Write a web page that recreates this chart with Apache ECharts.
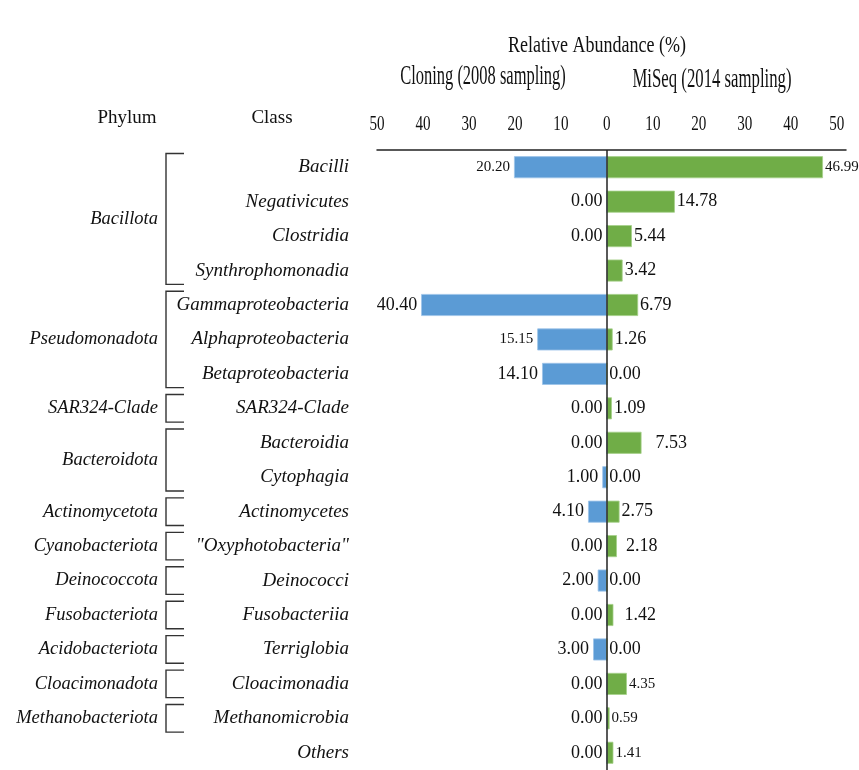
<!DOCTYPE html>
<html><head><meta charset="utf-8">
<script src="https://cdn.jsdelivr.net/npm/echarts@6/dist/echarts.min.js"></script>
<style>html,body{margin:0;padding:0;background:#fff}#c{width:859px;height:770px}</style>
</head><body><div id="c"></div>
<script>
// ---------- data ----------
const classes = ['Bacilli','Negativicutes','Clostridia','Synthrophomonadia','Gammaproteobacteria','Alphaproteobacteria','Betaproteobacteria','SAR324-Clade','Bacteroidia','Cytophagia','Actinomycetes','"Oxyphotobacteria"','Deinococci','Fusobacteriia','Terriglobia','Cloacimonadia','Methanomicrobia','Others'];
const cloning = [20.20,0.00,0.00,null,40.40,15.15,14.10,0.00,0.00,1.00,4.10,0.00,2.00,0.00,3.00,0.00,0.00,0.00];
const miseq   = [46.99,14.78,5.44,3.42,6.79,1.26,0.00,1.09,7.53,0.00,2.75,2.18,0.00,1.42,0.00,4.35,0.59,1.41];
const phyla = ['Bacillota','Pseudomonadota','SAR324-Clade','Bacteroidota','Actinomycetota','Cyanobacteriota','Deinococcota','Fusobacteriota','Acidobacteriota','Cloacimonadota','Methanobacteriota'];
const phylumFirstClass = ['Bacilli','Gammaproteobacteria','SAR324-Clade','Bacteroidia','Actinomycetes','"Oxyphotobacteria"','Deinococci','Fusobacteriia','Terriglobia','Cloacimonadia','Methanomicrobia'];
const phylumLastClass  = ['Synthrophomonadia','Betaproteobacteria','SAR324-Clade','Cytophagia','Actinomycetes','"Oxyphotobacteria"','Deinococci','Fusobacteriia','Terriglobia','Cloacimonadia','Methanomicrobia'];
const tickValues = [-50,-40,-30,-20,-10,0,10,20,30,40,50];
const tickLabels = ['50','40','30','20','10','0','10','20','30','40','50'];
const titleText = 'Relative Abundance (%)';
const leftTitle = 'Cloning (2008 sampling)';
const rightTitle = 'MiSeq (2014 sampling)';
const headPhylum = 'Phylum', headClass = 'Class';

// ---------- styles ----------
const SERIF = '"Liberation Serif", "DejaVu Serif", serif';
const BLUE = '#5B9BD5', GREEN = '#70AD47', INK = '#111';
const smallCloning = new Set(['Bacilli','Alphaproteobacteria']);
const smallMiseq = new Set(['Bacilli','Cloacimonadia','Methanomicrobia','Others']);
const miseqGap = {'Bacteroidia':14,'"Oxyphotobacteria"':9,'Fusobacteriia':11};
const GRID_TOP = 150;
const BRACKET_X = 166, BRACKET_ARM = 18;

const fmt = v => Math.abs(v).toFixed(2);

const cloningData = cloning.map((v,i) => v === null ? null : {
  value: -v,
  label: {fontSize: smallCloning.has(classes[i]) ? 15 : 18}
});
const miseqData = miseq.map((v,i) => ({
  value: v,
  label: {fontSize: smallMiseq.has(classes[i]) ? 15 : 18, distance: miseqGap[classes[i]] || 2}
}));

const chart = echarts.init(document.getElementById('c'), null, {renderer:'canvas'});
chart.setOption({
  animation: false,
  backgroundColor: '#fff',
  grid: {left: 377, right: 13, top: GRID_TOP, height: 622},
  xAxis: {
    type: 'value', position: 'top', min: -50, max: 52, interval: 10,
    axisLine: {show: true, lineStyle: {color: '#222', width: 1.5}},
    axisTick: {show: false}, splitLine: {show: false},
    axisLabel: {show: false}
  },
  yAxis: {
    type: 'category', inverse: true, data: classes,
    axisLine: {show: false, onZero: false}, axisTick: {show: false},
    axisLabel: {color: INK, fontFamily: SERIF, fontStyle: 'italic', fontSize: 19, margin: 28}
  },
  graphic: [
    {type:'text', x: 597, y: 46, scaleX: 0.75, style:{text: titleText, font: '24px ' + SERIF, fill: INK, textAlign:'center', textVerticalAlign:'middle'}},
    {type:'text', x: 483, y: 77, scaleX: 0.61, style:{text: leftTitle, font: '27px ' + SERIF, fill: INK, textAlign:'center', textVerticalAlign:'middle'}},
    {type:'text', x: 712, y: 80, scaleX: 0.62, style:{text: rightTitle, font: '27px ' + SERIF, fill: INK, textAlign:'center', textVerticalAlign:'middle'}},
    {type:'text', x: 127, y: 118, style:{text: headPhylum, font: '19px ' + SERIF, fill: INK, textAlign:'center', textVerticalAlign:'middle'}},
    {type:'text', x: 272, y: 118, style:{text: headClass, font: '19px ' + SERIF, fill: INK, textAlign:'center', textVerticalAlign:'middle'}}
  ],
  series: [
    {
      name: 'Cloning (2008 sampling)', type: 'bar', data: cloningData,
      barWidth: 22, barGap: '-100%',
      itemStyle: {color: BLUE, borderColor: '#9cc3e8', borderWidth: 0.8},
      label: {show: true, position: 'left', distance: 4, color: INK, fontFamily: SERIF, formatter: p => fmt(p.value)}
    },
    {
      name: 'MiSeq (2014 sampling)', type: 'bar', data: miseqData,
      barWidth: 22, barGap: '-100%',
      itemStyle: {color: GREEN, borderColor: '#a6d08a', borderWidth: 0.8},
      label: {show: true, position: 'right', color: INK, fontFamily: SERIF, formatter: p => fmt(p.value)},
      markLine: {silent: true, symbol: ['none','none'], label: {show: false},
        lineStyle: {color: '#222', width: 1.5, type: 'solid'}, data: [{xAxis: 0}]}
    },
    {
      // compressed tick labels placed with the x scale
      type: 'custom', silent: true, clip: false,
      data: tickValues.map(v => [v, 0]),
      encode: {x: 0, y: 1},
      renderItem: (params, api) => {
        const x = api.coord([api.value(0), 0])[0];
        return {type:'text', x: x, y: GRID_TOP - 26, scaleX: 0.72,
          style:{text: tickLabels[params.dataIndex], textAlign:'center', textVerticalAlign:'middle', font:'21px ' + SERIF, fill: INK}};
      }
    },
    {
      type: 'custom', silent: true, clip: false,
      data: phyla.map((p,i) => [0, classes.indexOf(phylumFirstClass[i]), classes.indexOf(phylumLastClass[i])]),
      encode: {x: 0, y: [1,2]},
      renderItem: (params, api) => {
        const i = params.dataIndex;
        const yTop = api.coord([0, api.value(1)])[1];
        const yBot = api.coord([0, api.value(2)])[1];
        const band = api.size([0, 1])[1];
        const y1 = yTop - band*0.4, y2 = yBot + band*0.4;
        const x1 = BRACKET_X, x2 = BRACKET_X + BRACKET_ARM;
        return {type: 'group', children: [
          {type:'polyline', shape:{points:[[x2,y1],[x1,y1],[x1,y2],[x2,y2]]}, style:{stroke:'#333', lineWidth:1.4, fill:null}},
          {type:'text', x: x1 - 8, y: (y1+y2)/2, style:{text: phyla[i], textAlign:'right', textVerticalAlign:'middle', font:'italic 18.5px ' + SERIF, fill: INK}}
        ]};
      }
    }
  ]
});
</script>
</body></html>
